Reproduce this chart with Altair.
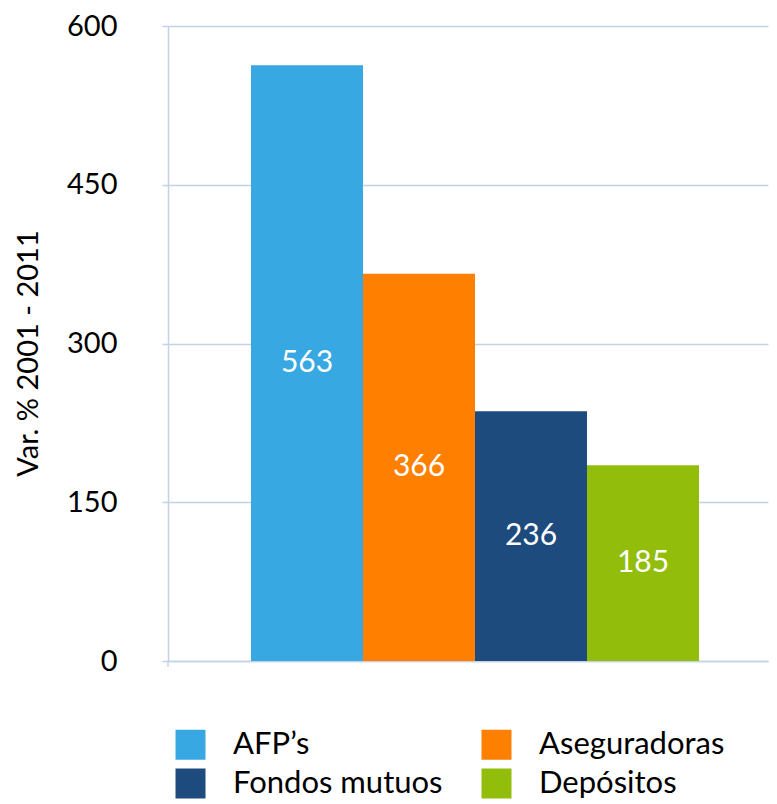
import altair as alt
import pandas as pd

categories = ["AFP’s", "Aseguradoras", "Fondos mutuos", "Depósitos"]
values = [563, 366, 236, 185]
colors = ["#38A8E3", "#FF7F00", "#1E4B7E", "#92BD0A"]
y_ticks = [0, 150, 300, 450, 600]
y_title = "Var. % 2001 - 2011"

grid_color = "#C3D3E4"
font = "Lato"

df = pd.DataFrame({"cat": categories, "val": values})

x_scale = alt.Scale(domain=categories, paddingInner=0, paddingOuter=0.6786, align=0.546)
y_scale = alt.Scale(domain=[0, 600], nice=False)

x_axis = alt.Axis(title=None, labels=False, ticks=False, grid=False,
                  domain=True, domainColor=grid_color, domainWidth=1.5)
y_axis = alt.Axis(values=y_ticks, title=y_title, grid=True,
                  gridColor=grid_color, gridWidth=1.5,
                  domain=True, domainColor=grid_color, domainWidth=1.5,
                  ticks=True, tickColor=grid_color, tickWidth=1.5, tickSize=6,
                  labelFont=font, labelFontSize=29, labelColor="#000000",
                  labelPadding=45,
                  titleFont=font, titleFontSize=29, titleFontWeight="normal",
                  titleColor="#000000", titleAngle=270, titleAlign="center",
                  titleBaseline="middle", titleX=-140, titleY=327)

base = alt.Chart(df).transform_calculate(mid="datum.val / 2")

bars = base.mark_bar().encode(
    x=alt.X("cat:N", scale=x_scale, sort=categories, axis=x_axis),
    y=alt.Y("val:Q", scale=y_scale, axis=y_axis, title=y_title),
    color=alt.Color("cat:N", sort=categories,
                    scale=alt.Scale(domain=categories, range=colors),
                    legend=alt.Legend(title=None, orient="none", legendX=7, legendY=703,
                                      columns=2, direction="horizontal",
                                      symbolType="square", symbolSize=900,
                                      symbolStrokeWidth=0, symbolOpacity=1,
                                      labelFont=font, labelFontSize=31, labelColor="#000000",
                                      labelOffset=27, columnPadding=38, rowPadding=7,
                                      labelLimit=400)),
)

labels = base.mark_text(
    color="white", font=font, fontSize=30, baseline="middle", align="center"
).encode(
    x=alt.X("cat:N", scale=x_scale, sort=categories, axis=x_axis),
    y=alt.Y("mid:Q", scale=y_scale, axis=y_axis, title=y_title),
    text=alt.Text("val:Q"),
)

corner = alt.Chart(pd.DataFrame({"k": [0]})).mark_rule(
    color=grid_color, strokeWidth=1.5
).encode(x=alt.value(0), y=alt.value(635), y2=alt.value(641))

chart = alt.layer(bars, labels, corner).properties(
    width=600, height=635,
    autosize="none",
    padding={"left": 160, "top": 18, "right": 1, "bottom": 139},
    background="white",
).configure_view(stroke=None)

chart.save("out.html", embed_options={"renderer": "svg", "actions": False})
